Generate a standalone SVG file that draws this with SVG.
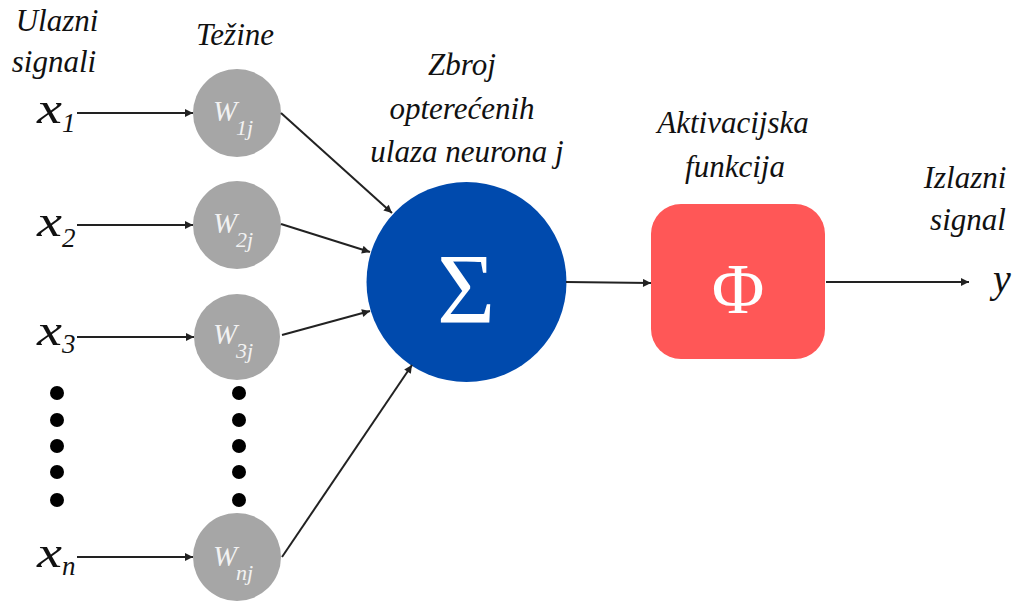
<svg xmlns="http://www.w3.org/2000/svg" width="1015" height="601" viewBox="0 0 1015 601">
<style>
text{font-family:"Liberation Serif","Times New Roman",serif;font-style:italic}
.lbl{font-size:31px;fill:#111;text-anchor:middle}
.xv{font-size:45px;fill:#111}
.xs{font-size:27px;fill:#111}
.yv{font-size:40px;fill:#111}
.wv{font-size:29px;fill:#f2f2f2}
.ws{font-size:22px;fill:#f2f2f2}
.sym{font-style:normal;fill:#fff;text-anchor:middle}
.wc{fill:#a6a6a6}
.dot{fill:#000}
.edge{stroke:#222;stroke-width:2;fill:none;marker-end:url(#ah)}
</style>
<defs>
<marker id="ah" viewBox="0 0 10 10" refX="10" refY="5" markerWidth="4.5" markerHeight="4" orient="auto" markerUnits="strokeWidth">
<path d="M0,0 L10,5 L0,10 z" fill="#222"/>
</marker>
</defs>
<rect width="1015" height="601" fill="#fff"/>

<g id="labels">
<text class="lbl" x="57" y="31">Ulazni</text>
<text class="lbl" x="54" y="72">signali</text>
<text class="lbl" x="235" y="45">Težine</text>
<text class="lbl" x="462" y="75">Zbroj</text>
<text class="lbl" x="462" y="119">opterećenih</text>
<text class="lbl" x="467" y="162">ulaza neurona j</text>
<text class="lbl" x="733" y="133">Aktivacijska</text>
<text class="lbl" x="735" y="177">funkcija</text>
<text class="lbl" x="965" y="188">Izlazni</text>
<text class="lbl" x="968" y="230">signal</text>
</g>

<g id="inputs">
<g id="x1"><text class="xv" transform="translate(37,123) scale(1.25,1)">x</text><text class="xs" x="62" y="132">1</text></g>
<g id="x2"><text class="xv" transform="translate(37,236) scale(1.25,1)">x</text><text class="xs" x="62" y="247">2</text></g>
<g id="x3"><text class="xv" transform="translate(37,345) scale(1.25,1)">x</text><text class="xs" x="62" y="353">3</text></g>
<g id="xn"><text class="xv" transform="translate(37,567) scale(1.25,1)">x</text><text class="xs" x="62" y="575">n</text></g>
</g>

<g id="dots-inputs">
<circle class="dot" cx="57" cy="393" r="7"/>
<circle class="dot" cx="57" cy="420" r="7"/>
<circle class="dot" cx="57" cy="446" r="7"/>
<circle class="dot" cx="57" cy="472" r="7"/>
<circle class="dot" cx="57" cy="500" r="7"/>
</g>
<g id="dots-weights">
<circle class="dot" cx="239" cy="393" r="7"/>
<circle class="dot" cx="239" cy="420" r="7"/>
<circle class="dot" cx="239" cy="446" r="7"/>
<circle class="dot" cx="239" cy="472" r="7"/>
<circle class="dot" cx="239" cy="500" r="7"/>
</g>

<g id="w1j"><circle class="wc" cx="237" cy="113" r="44"/><text class="wv" x="213" y="121">W</text><text class="ws" x="236" y="135">1j</text></g>
<g id="w2j"><circle class="wc" cx="237" cy="225" r="44"/><text class="wv" x="213" y="233">W</text><text class="ws" x="236" y="247">2j</text></g>
<g id="w3j"><circle class="wc" cx="237" cy="337" r="43"/><text class="wv" x="213" y="344">W</text><text class="ws" x="236" y="358">3j</text></g>
<g id="wnj"><circle class="wc" cx="237" cy="557" r="44"/><text class="wv" x="213" y="566">W</text><text class="ws" x="236" y="580">nj</text></g>

<g id="sum"><circle cx="466.5" cy="282" r="100" fill="#004aad"/><text class="sym" x="466" y="322" font-size="100">Σ</text></g>

<g id="activation"><rect x="651" y="204" width="174" height="155" rx="30" ry="30" fill="#ff5757"/><text class="sym" x="738" y="313" font-size="72">Φ</text></g>

<g id="output"><text class="yv" x="993" y="292">y</text></g>

<g id="connectors">
<line class="edge" x1="77" y1="113" x2="193" y2="113"/>
<line class="edge" x1="77" y1="225" x2="193" y2="225"/>
<line class="edge" x1="77" y1="337" x2="194" y2="337"/>
<line class="edge" x1="77" y1="557" x2="193" y2="557"/>
<line class="edge" x1="281" y1="113" x2="392" y2="213"/>
<line class="edge" x1="281" y1="224" x2="370" y2="252"/>
<line class="edge" x1="282" y1="335" x2="370" y2="311"/>
<line class="edge" x1="282" y1="557" x2="412" y2="365"/>
<line class="edge" x1="566" y1="282" x2="651" y2="283"/>
<line class="edge" x1="826" y1="282" x2="969" y2="282"/>
</g>
</svg>
